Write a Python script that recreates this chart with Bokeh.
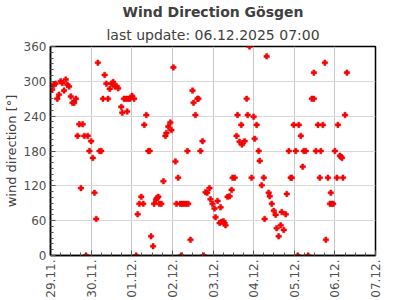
import datetime as dt
from bokeh.plotting import figure
from bokeh.models import Range1d, FixedTicker, DatetimeTickFormatter, Title
from bokeh.embed import file_html
from bokeh.resources import INLINE
import math

# ---- data (hours since 29.11.2025 00:00, wind direction in degrees) ----
hours = [0, 1, 2, 3, 4, 5, 6, 7, 8, 9, 10, 11, 12, 13, 14, 15, 16, 17, 18, 19,
         20, 21, 22, 23, 24, 25, 26, 27, 28, 29, 30, 31, 32, 33, 34, 35, 36, 37,
         38, 39, 40, 41.8, 42.4, 43.4, 44.6, 45.3, 45.8, 47.0, 48.2, 49.4, 50.6,
         51.5, 52.5, 53.6, 54.8, 55.4, 56.6, 57.8, 58.6, 59.4, 60.6, 61.2, 62.3,
         62.9, 63.7, 64.3, 65.5, 66.7, 67.9, 68.5, 69.6, 70.8, 71.4, 72.6, 73.8,
         74.4, 75.4, 76.6, 77.7, 78.9, 80.1, 81.4, 77.2, 80.9, 82.7, 83.9, 84.5,
         85.6, 86.8, 87.4, 88.6, 89.8, 90.4, 91.6, 92.6, 93.9, 94.5, 95.7, 96.9,
         97.5, 98.7, 99.9, 100.5, 101.0, 102.2, 102.8, 103.4, 104.6, 105.8, 107.0,
         107.6, 108.8, 109.9, 110.5, 111.7, 112.7, 113.1,
         114.7, 115.9, 116.5, 117.6, 118.8, 120.0, 120.6, 121.8, 123.0, 123.6,
         124.8, 126.0, 126.5, 127.7, 128.9, 129.5, 130.7, 131.9, 133.0, 133.6,
         134.8, 136.0, 136.6, 137.8, 139.0, 139.6, 140.8, 141.9, 142.5, 143.7,
         144.9, 146.1, 146.7, 147.9, 149.0, 149.6, 150.8,
         152.2, 154.4, 155.6, 155.6, 156.8, 158.0, 159.1, 159.7, 160.9, 162.1,
         162.7, 163.9, 165.1, 165.6, 166.2, 167.0, 168.0, 169.2, 169.8, 171.0,
         171.6, 172.2, 172.8, 174.0, 175.1]
directions = [292, 286, 294, 296, 270, 277, 300, 297, 284, 303, 294, 291, 274, 263,
              263, 270, 206, 226, 116, 226, 206, 0, 206, 180, 197, 168, 108, 63,
              332, 180, 180, 270, 311, 296, 270, 287, 296, 299,
              291, 292, 288, 256, 246, 270, 270, 248, 270, 270, 275, 270, 0,
              71, 89, 101, 89, 225, 242, 180, 180, 33, 16, 89, 96,
              99, 101, 89, 89, 128, 206, 211, 222, 229, 216, 324, 162,
              89, 134, 89, 89, 89, 89, 89, 0, 180, 27, 284, 263,
              242, 270, 270, 180, 197, 0, 109, 108, 116, 97, 89, 81,
              66, 94, 56, 83, 58, 59, 56, 52, 101, 102, 113,
              134, 134, 206, 242, 196, 225, 191,
              197, 270, 242, 360, 134, 239, 201, 225, 180, 163,
              121, 134, 63, 343, 108, 102, 89, 77, 70, 47,
              33, 52, 75, 44, 71, 106, 180, 134, 134, 225,
              180, 0, 225, 206, 153, 180, 180,
              0, 270, 270, 315, 180, 225, 134, 180, 225, 332,
              27, 134, 89, 108, 89, 89, 180, 134, 225, 172,
              170, 168, 134, 242, 315]
day_labels = ["29.11.", "30.11.", "01.12.", "02.12.", "03.12.", "04.12.",
              "05.12.", "06.12.", "07.12."]
y_ticks = [0, 60, 120, 180, 240, 300, 360]
title_text = "Wind Direction Gösgen"
subtitle_text = "last update: 06.12.2025 07:00"
y_label = "wind direction [°]"

# ---- time handling ----
epoch = dt.datetime(1970, 1, 1)
start = dt.datetime(2025, 11, 29)
HOUR_MS = 3600 * 1000.0
start_ms = (start - epoch).total_seconds() * 1000.0
x_ms = [start_ms + h * HOUR_MS for h in hours]
day_ticks = [start_ms + i * 24 * HOUR_MS for i in range(len(day_labels))]
minor_x = [start_ms + i * 6 * HOUR_MS for i in range(4 * (len(day_labels) - 1) + 1)]

FONT = "DejaVu Sans"
TXT = "#404040"

p = figure(width=395, height=300, x_axis_type="datetime",
           x_range=Range1d(day_ticks[0], day_ticks[-1]),
           y_range=Range1d(0, 360),
           output_backend="svg", toolbar_location=None, title=None,
           min_border_left=50, min_border_right=20,
           min_border_top=10, min_border_bottom=44)

p.add_layout(Title(text=subtitle_text, align="center", text_font=FONT,
                   text_font_size="14px", text_font_style="normal",
                   text_color=TXT, standoff=8), "above")
p.add_layout(Title(text=title_text, align="center", text_font=FONT,
                   text_font_size="14px", text_font_style="bold",
                   text_color=TXT, standoff=2), "above")

p.scatter(x_ms, directions, marker="plus", size=5.5, fill_color="red",
          line_color="#e00000", line_width=0.5)

p.outline_line_color = "black"
p.outline_line_width = 1.5
p.background_fill_color = "white"
p.border_fill_color = "white"

p.xgrid.grid_line_color = "#c8c8c8"
p.ygrid.grid_line_color = "#d8d8d8"
p.xgrid.grid_line_width = 1
p.ygrid.grid_line_width = 1

xa = p.xaxis[0]
xa.ticker = FixedTicker(ticks=day_ticks, minor_ticks=minor_x)
xa.formatter = DatetimeTickFormatter(days="%d.%m.", months="%d.%m.",
                                     hours="%d.%m.", years="%d.%m.")
xa.major_label_orientation = math.pi / 2

ya = p.yaxis[0]
ya.ticker = FixedTicker(ticks=y_ticks, minor_ticks=list(range(0, 361, 10)))
ya.axis_label = y_label
ya.axis_label_text_font = FONT
ya.axis_label_text_font_size = "13px"
ya.axis_label_text_font_style = "normal"
ya.axis_label_text_color = TXT
ya.axis_label_standoff = 2

for ax in (xa, ya):
    ax.axis_line_color = "black"
    ax.axis_line_width = 1.5
    ax.major_tick_in = 5
    ax.major_tick_out = 0
    ax.minor_tick_in = 3
    ax.minor_tick_out = 0
    ax.major_tick_line_color = "#555555"
    ax.minor_tick_line_color = "#555555"
    ax.major_label_text_font = FONT
    ax.major_label_text_font_size = "12px"
    ax.major_label_text_color = "#505050"
    ax.major_label_standoff = 4

open("out.html", "w").write(file_html(p, INLINE))
